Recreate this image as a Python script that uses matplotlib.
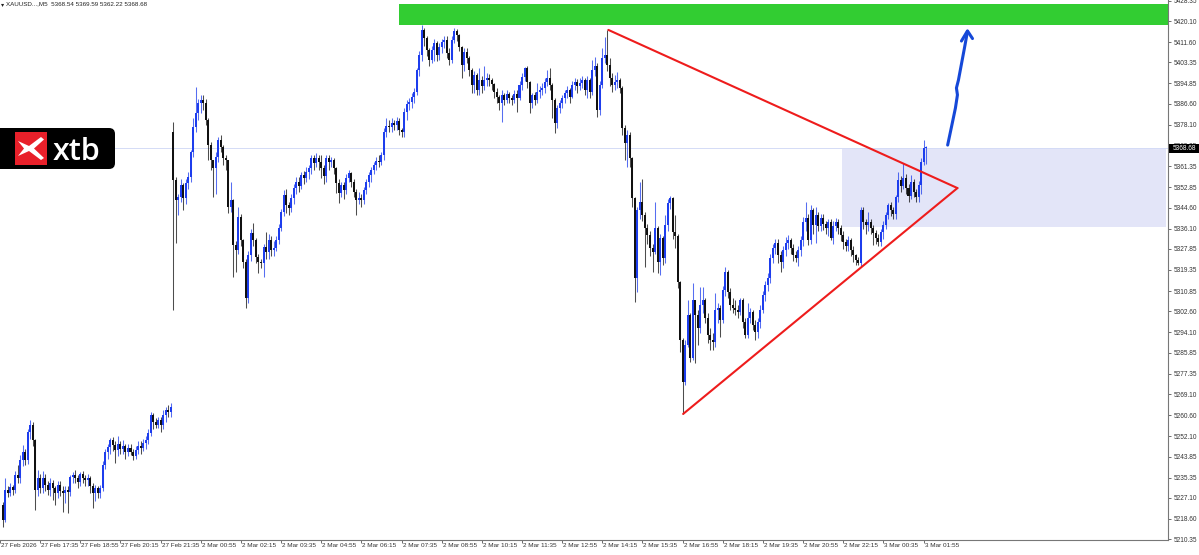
import matplotlib
matplotlib.use("Agg")
import matplotlib.pyplot as plt
import matplotlib.transforms as mtransforms
from matplotlib.patches import Rectangle, FancyBboxPatch, Polygon
import numpy as np

# ---------------------------------------------------------------
# XAUUSD M5 bars, bar 1 = 27 Feb 16:20, bar 69 = 2 Mar 00:00
# open of each bar is the previous close, except the session opens
fri_open = 5224.3
mon_open = 5375.2
mon_start = 69

closes = [
    5218.2, 5230.3, 5229.1, 5231.5, 5230.3, 5236.4, 5235.2, 5242.5, 5245.7, 5242.5,
    5253.8, 5256.6, 5250.6, 5230.3, 5235.2, 5231.1, 5235.2, 5232.4, 5230.3, 5233.2,
    5231.1, 5229.1, 5232.4, 5229.9, 5229.1, 5230.3, 5229.5, 5235.6, 5236.4, 5235.2,
    5233.6, 5236.8, 5235.2, 5234.4, 5235.2, 5232.0, 5229.1, 5231.1, 5229.1, 5231.1,
    5240.5, 5245.7, 5247.7, 5250.6, 5248.5, 5246.5, 5249.0, 5246.9, 5248.1, 5245.7,
    5247.3, 5245.7, 5244.1, 5246.5, 5248.1, 5247.3, 5249.4, 5250.6, 5253.4, 5260.7,
    5257.9, 5256.6, 5258.7, 5256.6, 5260.7, 5262.7, 5261.9, 5263.9,
    5355.8, 5347.7,
    5348.9, 5353.8, 5348.5, 5354.6, 5357.0, 5367.1, 5377.2, 5382.9, 5386.9, 5388.1,
    5386.9, 5380.0, 5369.9, 5363.9, 5360.6, 5365.1, 5372.0, 5369.1, 5364.7, 5363.9,
    5344.8, 5347.7, 5329.5, 5327.4, 5340.8, 5331.5, 5322.6, 5308.0, 5325.4, 5334.3,
    5331.5, 5324.6, 5322.6, 5322.2, 5328.7, 5326.6, 5331.5, 5327.4, 5328.3, 5331.5,
    5336.3, 5342.8, 5349.7, 5345.7, 5344.4, 5348.5, 5352.5, 5355.0, 5353.4, 5357.8,
    5356.6, 5359.0, 5360.6, 5364.7, 5362.7, 5364.7, 5363.1, 5360.6, 5357.4, 5364.7,
    5363.1, 5363.9, 5360.6, 5354.6, 5350.5, 5353.8, 5351.7, 5356.6, 5358.6, 5355.0,
    5350.9, 5347.7, 5348.5, 5347.7, 5351.7, 5355.0, 5357.8, 5359.8, 5361.9, 5363.5,
    5362.9, 5365.9, 5375.2, 5377.6, 5377.2, 5378.8, 5378.0, 5379.6, 5376.0, 5375.2,
    5383.3, 5386.5, 5387.3, 5389.4, 5391.4, 5400.3, 5406.3, 5416.5, 5413.2, 5408.4,
    5404.3, 5408.4, 5411.2, 5406.3, 5409.6, 5411.6, 5412.4, 5407.2, 5404.3, 5412.4,
    5416.1, 5414.4, 5409.6, 5402.3, 5407.6, 5405.1, 5400.3, 5394.2, 5398.3, 5392.2,
    5396.2, 5393.8, 5396.2, 5397.0, 5396.2, 5394.6, 5391.4, 5389.4, 5386.9, 5390.2,
    5388.1, 5390.6, 5389.0, 5388.1, 5390.6, 5389.0, 5394.2, 5397.4, 5401.1, 5395.4,
    5386.9, 5390.2, 5388.1, 5391.4, 5392.2, 5393.0, 5395.4, 5397.0, 5394.2, 5388.1,
    5378.8, 5384.9, 5386.9, 5389.0, 5391.0, 5392.2, 5389.4, 5394.2, 5395.4, 5393.8,
    5395.0, 5396.2, 5392.2, 5396.2, 5391.4, 5400.3, 5401.9, 5384.1, 5394.2, 5405.1,
    5406.3, 5402.3, 5397.0, 5394.2, 5395.4, 5396.2, 5393.0, 5376.8, 5370.7, 5374.0,
    5364.7, 5348.5, 5316.1, 5343.6, 5346.9, 5341.6, 5336.3, 5333.5, 5328.3, 5326.6,
    5336.3, 5322.6, 5332.3, 5324.2, 5337.6, 5346.5, 5348.5, 5334.7, 5333.1, 5314.5,
    5291.0, 5274.0, 5289.0, 5301.2, 5283.8, 5307.2, 5301.2, 5295.9, 5305.2, 5307.2,
    5299.9, 5293.0, 5291.0, 5290.2, 5303.2, 5304.0, 5299.1, 5311.3, 5318.6, 5310.5,
    5305.2, 5304.0, 5303.2, 5302.4, 5307.2, 5298.3, 5293.0, 5299.9, 5302.4, 5297.1,
    5294.3, 5298.3, 5303.2, 5309.2, 5313.3, 5316.1, 5324.2, 5328.3, 5330.3, 5325.4,
    5322.6, 5327.4, 5330.3, 5331.5, 5328.3, 5325.4, 5324.2, 5327.4, 5331.5, 5338.8,
    5340.4, 5331.5, 5343.6, 5337.6, 5341.6, 5337.2, 5340.4, 5338.0, 5336.3, 5338.8,
    5332.3, 5337.2, 5338.8, 5336.3, 5333.5, 5330.7, 5329.1, 5331.5, 5327.4, 5325.4,
    5323.4, 5322.2, 5343.6, 5338.8, 5337.6, 5338.8, 5336.3, 5334.3, 5332.3, 5330.7,
    5334.7, 5337.6, 5341.6, 5345.7, 5343.6, 5342.0, 5348.9, 5355.8, 5353.4, 5356.6,
    5352.5, 5349.3, 5355.0, 5350.9, 5348.9, 5353.8, 5363.1, 5368.54, 5368.68,
]

highs = [
    5225.5, 5235.2, 5232.0, 5233.0, 5232.5, 5238.0, 5240.5, 5244.5, 5248.5, 5247.0,
    5255.0, 5258.7, 5257.9, 5251.0, 5238.4, 5237.0, 5238.0, 5237.0, 5234.0, 5235.0,
    5234.5, 5232.0, 5234.0, 5234.0, 5232.0, 5232.0, 5232.0, 5236.4, 5237.5, 5238.4,
    5236.5, 5237.6, 5238.0, 5236.5, 5237.0, 5236.0, 5233.0, 5232.5, 5232.0, 5232.5,
    5242.0, 5247.0, 5249.0, 5251.4, 5251.8, 5250.0, 5252.2, 5250.0, 5250.6, 5249.0,
    5249.0, 5249.0, 5247.0, 5248.0, 5250.0, 5250.0, 5251.0, 5252.2, 5255.0, 5261.9,
    5261.5, 5259.5, 5260.0, 5260.0, 5262.7, 5264.0, 5264.7, 5265.5,
    5379.2, 5357.0,
    5350.0, 5356.0, 5354.5, 5356.0, 5359.0, 5368.0, 5380.9, 5393.4, 5388.5, 5390.2,
    5390.0, 5388.5, 5381.0, 5371.0, 5364.0, 5367.0, 5373.0, 5374.0, 5370.0, 5366.0,
    5364.0, 5355.0, 5348.0, 5331.0, 5344.8, 5342.0, 5332.0, 5324.0, 5327.0, 5336.0,
    5338.4, 5332.5, 5326.0, 5324.0, 5330.0, 5334.7, 5334.0, 5333.0, 5331.0, 5333.0,
    5338.0, 5344.0, 5351.7, 5352.0, 5347.0, 5350.0, 5354.0, 5357.0, 5357.0, 5359.0,
    5359.5, 5361.0, 5362.0, 5366.0, 5366.0, 5366.7, 5366.0, 5365.9, 5362.0, 5365.9,
    5366.0, 5365.0, 5364.5, 5361.0, 5356.0, 5355.0, 5355.0, 5358.0, 5360.0, 5359.0,
    5356.0, 5352.0, 5351.0, 5350.0, 5353.0, 5356.0, 5359.0, 5361.0, 5363.0, 5365.0,
    5366.0, 5367.0, 5377.0, 5380.9, 5380.0, 5381.0, 5380.0, 5381.3, 5381.0, 5377.0,
    5385.0, 5388.0, 5389.0, 5391.0, 5393.0, 5401.0, 5408.0, 5418.5, 5417.3, 5414.0,
    5409.0, 5410.0, 5413.0, 5412.0, 5411.0, 5413.0, 5414.0, 5414.0, 5409.0, 5414.0,
    5417.3, 5416.9, 5415.0, 5410.0, 5409.0, 5409.0, 5406.0, 5401.0, 5400.0, 5399.0,
    5401.1, 5398.0, 5401.9, 5399.0, 5398.5, 5397.0, 5395.0, 5393.0, 5390.0, 5392.0,
    5391.0, 5392.0, 5391.5, 5390.0, 5392.0, 5392.0, 5396.0, 5399.0, 5401.5, 5402.0,
    5396.0, 5391.0, 5391.5, 5395.0, 5394.0, 5395.0, 5397.0, 5400.3, 5401.1, 5395.0,
    5389.0, 5386.0, 5388.0, 5390.0, 5392.0, 5394.0, 5393.0, 5396.0, 5397.0, 5396.5,
    5397.0, 5398.0, 5397.0, 5398.0, 5397.0, 5404.3, 5405.5, 5403.0, 5396.0, 5409.2,
    5413.6, 5416.5, 5405.1, 5399.0, 5398.3, 5399.5, 5397.0, 5394.0, 5378.0, 5376.0,
    5375.0, 5365.0, 5349.0, 5344.8, 5355.0, 5356.0, 5343.0, 5338.0, 5335.0, 5330.0,
    5346.9, 5337.0, 5334.0, 5333.0, 5341.6, 5348.0, 5349.3, 5349.0, 5341.6, 5334.0,
    5315.0, 5292.0, 5291.0, 5307.2, 5302.0, 5314.1, 5306.4, 5303.0, 5312.5, 5312.5,
    5308.0, 5302.0, 5296.0, 5294.0, 5310.1, 5306.0, 5305.0, 5313.0, 5320.6, 5319.5,
    5312.0, 5308.0, 5307.2, 5305.0, 5308.0, 5308.0, 5300.0, 5306.0, 5304.0, 5303.0,
    5299.0, 5300.0, 5305.0, 5311.0, 5315.0, 5318.0, 5326.0, 5330.0, 5332.0, 5332.0,
    5327.0, 5329.0, 5332.7, 5333.5, 5332.5, 5330.0, 5327.0, 5329.0, 5333.0, 5340.8,
    5346.9, 5342.0, 5345.7, 5344.4, 5345.0, 5343.0, 5342.0, 5342.0, 5339.0, 5340.0,
    5340.0, 5339.0, 5340.4, 5340.0, 5337.5, 5335.0, 5332.0, 5333.0, 5332.5, 5329.0,
    5326.0, 5324.5, 5344.8, 5344.8, 5340.0, 5342.8, 5340.0, 5337.5, 5335.5, 5334.0,
    5336.0, 5339.0, 5343.0, 5346.5, 5347.0, 5345.0, 5349.7, 5359.0, 5357.5, 5362.7,
    5358.0, 5354.0, 5357.8, 5356.0, 5352.0, 5355.5, 5364.5, 5372.0, 5369.59,
]

lows = [
    5215.4, 5217.5, 5227.5, 5228.0, 5228.5, 5229.0, 5233.0, 5233.0, 5240.0, 5240.5,
    5241.0, 5251.0, 5248.0, 5222.2, 5228.0, 5229.1, 5229.0, 5230.0, 5228.3, 5228.0,
    5226.3, 5224.3, 5227.0, 5228.0, 5221.4, 5225.0, 5221.0, 5228.0, 5233.0, 5233.0,
    5231.0, 5232.0, 5233.0, 5232.0, 5232.0, 5229.0, 5223.1, 5226.0, 5227.0, 5227.0,
    5230.0, 5239.0, 5243.0, 5245.0, 5246.0, 5241.3, 5244.0, 5245.0, 5245.0, 5243.0,
    5244.0, 5244.5, 5242.5, 5243.0, 5245.0, 5245.0, 5246.0, 5247.0, 5249.0, 5252.0,
    5255.0, 5255.4, 5255.5, 5254.0, 5255.0, 5258.0, 5260.0, 5260.0,
    5303.2, 5330.3,
    5341.6, 5346.9, 5343.6, 5346.0, 5352.0, 5355.0, 5365.0, 5375.0, 5380.0, 5383.0,
    5384.0, 5378.0, 5363.9, 5360.0, 5348.9, 5350.0, 5363.0, 5367.0, 5362.0, 5360.0,
    5342.4, 5343.0, 5316.5, 5318.6, 5326.0, 5329.0, 5320.0, 5304.0, 5306.0, 5323.0,
    5329.0, 5322.0, 5318.0, 5320.2, 5316.5, 5324.0, 5324.0, 5325.0, 5325.0, 5327.0,
    5330.0, 5335.0, 5341.0, 5342.4, 5341.6, 5343.0, 5346.0, 5350.0, 5351.0, 5352.0,
    5354.0, 5355.0, 5356.0, 5358.0, 5360.0, 5361.0, 5360.0, 5356.6, 5354.0, 5355.0,
    5360.0, 5361.0, 5358.0, 5350.5, 5346.5, 5349.0, 5348.0, 5350.0, 5355.0, 5353.0,
    5349.0, 5341.6, 5346.0, 5345.0, 5346.0, 5350.0, 5353.0, 5355.0, 5358.0, 5360.0,
    5361.0, 5362.0, 5364.0, 5373.0, 5375.0, 5375.0, 5376.0, 5376.0, 5374.0, 5373.2,
    5373.0, 5380.0, 5384.0, 5385.0, 5387.0, 5390.0, 5398.0, 5404.0, 5410.0, 5406.0,
    5402.0, 5403.1, 5404.0, 5404.0, 5404.3, 5407.0, 5409.0, 5405.0, 5402.3, 5403.0,
    5411.0, 5412.0, 5408.0, 5397.0, 5400.0, 5403.0, 5398.0, 5391.0, 5391.0, 5390.0,
    5390.0, 5391.0, 5392.0, 5394.0, 5394.0, 5392.0, 5389.0, 5387.0, 5384.0, 5379.2,
    5386.0, 5387.0, 5387.0, 5386.0, 5387.0, 5383.3, 5388.0, 5392.0, 5396.0, 5393.0,
    5382.9, 5385.0, 5386.0, 5387.0, 5389.0, 5390.0, 5391.0, 5394.0, 5392.0, 5380.9,
    5374.8, 5377.0, 5383.0, 5385.0, 5387.0, 5389.0, 5386.9, 5389.0, 5392.0, 5391.0,
    5392.0, 5393.0, 5390.0, 5389.0, 5389.0, 5390.0, 5398.0, 5381.3, 5382.0, 5393.0,
    5403.0, 5400.0, 5394.0, 5391.4, 5392.0, 5393.0, 5391.0, 5374.0, 5363.9, 5361.0,
    5361.0, 5345.0, 5306.4, 5310.5, 5340.0, 5339.0, 5320.6, 5330.0, 5325.0, 5318.6,
    5326.0, 5318.1, 5317.3, 5321.4, 5322.0, 5335.0, 5344.0, 5332.0, 5328.3, 5312.0,
    5286.2, 5261.1, 5272.8, 5288.0, 5282.1, 5283.0, 5281.7, 5289.0, 5294.0, 5302.0,
    5298.0, 5290.0, 5287.0, 5287.0, 5288.0, 5298.0, 5292.2, 5298.0, 5309.0, 5308.0,
    5303.0, 5302.0, 5301.0, 5300.0, 5301.0, 5296.0, 5291.8, 5292.0, 5298.0, 5295.0,
    5291.0, 5292.0, 5296.0, 5302.0, 5307.0, 5311.0, 5314.0, 5322.0, 5326.0, 5322.0,
    5318.6, 5320.0, 5325.0, 5328.0, 5326.0, 5323.0, 5322.6, 5321.0, 5325.0, 5329.0,
    5335.0, 5329.5, 5330.0, 5334.0, 5330.3, 5335.0, 5335.0, 5335.5, 5334.0, 5333.0,
    5331.5, 5330.0, 5335.0, 5334.0, 5331.0, 5328.0, 5327.0, 5327.0, 5325.0, 5322.6,
    5321.4, 5321.4, 5321.0, 5336.0, 5334.0, 5335.0, 5334.0, 5329.5, 5330.0, 5329.0,
    5329.0, 5332.0, 5336.0, 5340.0, 5341.0, 5340.0, 5340.0, 5347.0, 5351.0, 5352.0,
    5350.0, 5347.0, 5348.0, 5349.0, 5346.9, 5347.0, 5350.0, 5361.9, 5362.22,
]

time_ticks = [0, 16, 32, 48, 64, 80, 96, 112, 128, 144, 160, 176, 192, 208,
              224, 240, 256, 272, 288, 304, 320, 336, 352, 368]
time_labels = ["27 Feb 2026", "27 Feb 17:35", "27 Feb 18:55", "27 Feb 20:15",
               "27 Feb 21:35", "2 Mar 00:55", "2 Mar 02:15", "2 Mar 03:35",
               "2 Mar 04:55", "2 Mar 06:15", "2 Mar 07:35", "2 Mar 08:55",
               "2 Mar 10:15", "2 Mar 11:35", "2 Mar 12:55", "2 Mar 14:15",
               "2 Mar 15:35", "2 Mar 16:55", "2 Mar 18:15", "2 Mar 19:35",
               "2 Mar 20:55", "2 Mar 22:15", "3 Mar 00:35", "3 Mar 01:55"]

price_ticks = [5428.35, 5420.10, 5411.60, 5403.35, 5394.85, 5386.60, 5378.10,
               5369.85, 5361.35, 5352.85, 5344.60, 5336.10, 5327.85, 5319.35,
               5310.85, 5302.60, 5294.10, 5285.85, 5277.35, 5269.10, 5260.60,
               5252.10, 5243.85, 5235.35, 5227.10, 5218.60, 5210.35]

bid = 5368.68
header = "XAUUSD...,M5  5368.54 5369.59 5362.22 5368.68"

# drawn objects (bar index, price)
supply_zone = [159.0, 5418.5, 5427.0]        # left, bottom, top
demand_zone = [335.4, 464.6, 5336.8, bid]    # left, right, bottom, top
upper_line = [(242.4, 5416.5), (381.5, 5352.5)]
lower_line = [(272.2, 5261.1), (381.5, 5352.5)]
arrow_path = [(377.6, 5369.9), (379.2, 5377.6), (380.7, 5384.9), (381.5, 5390.2),
              (381.1, 5393.0), (381.9, 5396.2), (383.1, 5402.7), (384.3, 5409.2),
              (385.5, 5415.9)]
arrow_head = [(383.1, 5412.0), (385.5, 5416.1), (387.5, 5413.0)]

BULL = "#1d3ded"
BEAR = "#111111"
FONT = "Liberation Sans"

# ---------------------------------------------------------------
fig = plt.figure(figsize=(11.99, 5.55), dpi=100)
fig.patch.set_facecolor("white")
ax = fig.add_axes([0, 15 / 555, 1168 / 1199, 540 / 555])
ax.set_facecolor("white")
ax.set_xlim(1.18, 465.4)
ax.set_ylim(5210.1, 5428.6)

# zones
ax.add_patch(Rectangle((supply_zone[0], supply_zone[1]), 470 - supply_zone[0],
                       supply_zone[2] - supply_zone[1], facecolor="#32cd32",
                       edgecolor="none", zorder=1))
ax.add_patch(Rectangle((demand_zone[0], demand_zone[2]), demand_zone[1] - demand_zone[0],
                       demand_zone[3] - demand_zone[2], facecolor="#e3e5f8",
                       edgecolor="none", zorder=0.5))
ax.axhline(bid, color="#d4dbf6", lw=0.7, zorder=0.6)

# candles
c = np.array(closes)
o = np.empty_like(c)
o[1:] = c[:-1]
o[0] = fri_open
o[mon_start - 1] = mon_open
h = np.maximum(np.array(highs), np.maximum(o, c))
l = np.minimum(np.array(lows), np.minimum(o, c))
x = np.arange(1, len(c) + 1)
col = np.where(c >= o, BULL, BEAR)

ax.vlines(x, l, h, colors=col, lw=0.75, alpha=0.75, zorder=2)
ax.bar(x, np.maximum(np.abs(c - o), 0.5), bottom=np.minimum(o, c), width=0.8,
       color=col, linewidth=0, zorder=2.1)

# triangle
for seg in (upper_line, lower_line):
    ax.plot([p[0] for p in seg], [p[1] for p in seg], color="#ee1c1c", lw=1.5,
            solid_capstyle="round", zorder=4)

# hand drawn arrow
ax.plot([p[0] for p in arrow_path], [p[1] for p in arrow_path], color="#1548d8",
        lw=2.2, solid_capstyle="round", solid_joinstyle="round", zorder=5)
ax.plot([p[0] for p in arrow_head], [p[1] for p in arrow_head], color="#1548d8",
        lw=2.2, solid_capstyle="round", solid_joinstyle="round", zorder=5)

# axes look
for s in ("left", "top"):
    ax.spines[s].set_visible(False)
for s in ("right", "bottom"):
    ax.spines[s].set_color("#777777")
    ax.spines[s].set_linewidth(0.8)

ax.yaxis.tick_right()
ax.set_yticks(price_ticks)
ax.set_yticklabels([f"{v:.2f}" for v in price_ticks], fontfamily=FONT)
ax.tick_params(axis="y", direction="out", length=2.5, width=0.6, pad=1.5,
               labelsize=4.7, colors="#555555", labelcolor="#333333")

ax.set_xticks(time_ticks)
ax.set_xticklabels([])
ax.tick_params(axis="x", direction="out", length=2.5, width=0.6, colors="#555555")
trans = mtransforms.offset_copy(ax.get_xaxis_transform(), fig=fig, x=1.0, y=-3.0,
                                units="dots")
for t, lab in zip(time_ticks, time_labels):
    ax.text(t, 0, lab, transform=trans, ha="left", va="top", fontsize=4.6,
            fontfamily=FONT, color="#333333", clip_on=False)

# ---------------------------------------------------------------
# overlay in pixel units: header, logo, price marker
ov = fig.add_axes([0, 0, 1, 1], zorder=10)
ov.set_xlim(0, 1199)
ov.set_ylim(555, 0)
ov.axis("off")
ov.patch.set_alpha(0)

ov.text(0.5, 4.2, "\u25be", fontsize=4.5, va="center", ha="left", color="#222222",
        fontfamily="DejaVu Sans")
ov.text(6, 4.2, header, fontsize=4.5, va="center", ha="left", color="#222222",
        fontfamily=FONT)

ov.add_patch(FancyBboxPatch((-12, 128), 127, 41, boxstyle="round,pad=0,rounding_size=6",
                            facecolor="black", edgecolor="none"))
ov.add_patch(Rectangle((15, 132), 32, 33, facecolor="#e8202a", edgecolor="none"))
ov.add_patch(Polygon([(18, 141), (29, 146), (41, 137), (44, 139.5), (34, 148.5),
                      (44, 158), (41, 160), (29, 151), (18, 156), (24, 148.5)],
                     closed=True, facecolor="white", edgecolor="none"))
ov.text(53, 160, "xtb", color="white", fontsize=22, fontfamily="Open Sans",
        fontweight="semibold", va="baseline", ha="left")

ov.add_patch(Rectangle((1169, 143.5), 30, 9, facecolor="black", edgecolor="none"))
ov.text(1172.5, 148, f"{bid:.2f}", color="white", fontsize=4.7, va="center",
        ha="left", fontfamily=FONT)

fig.savefig("out.png", dpi=100, facecolor="white")
